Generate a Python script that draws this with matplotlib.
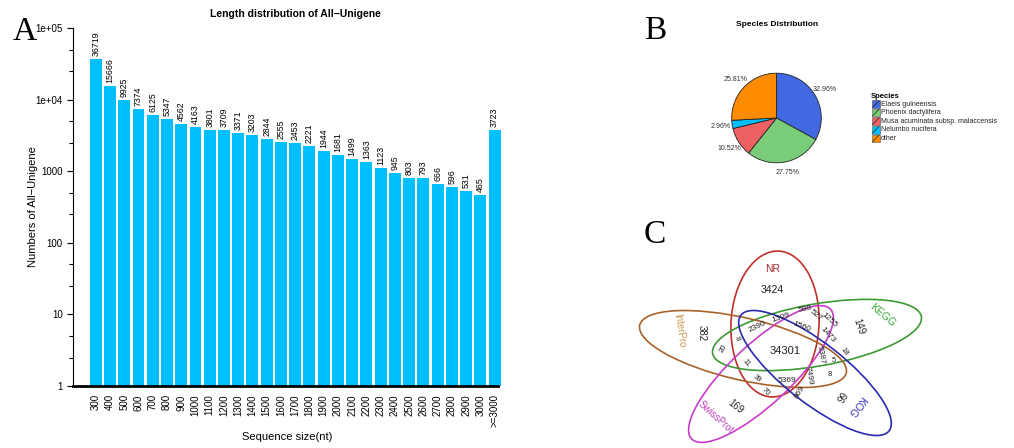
import matplotlib
matplotlib.use("Agg")
import matplotlib.pyplot as plt
from matplotlib.patches import Ellipse, Rectangle
from matplotlib.lines import Line2D
from matplotlib.ticker import FixedLocator, NullFormatter

plt.rcParams['font.family'] = ['Liberation Sans', 'DejaVu Sans']

# ---------------- data ----------------
length_bins = ['300', '400', '500', '600', '700', '800', '900', '1000', '1100', '1200',
               '1300', '1400', '1500', '1600', '1700', '1800', '1900', '2000', '2100',
               '2200', '2300', '2400', '2500', '2600', '2700', '2800', '2900', '3000', '>=3000']
unigene_counts = [36719, 15666, 9925, 7374, 6125, 5347, 4562, 4163, 3801, 3709,
                  3371, 3203, 2844, 2555, 2453, 2221, 1944, 1681, 1499,
                  1363, 1123, 945, 803, 793, 666, 596, 531, 465, 3723]

species = ['Elaeis guineensis', 'Phoenix dactylifera', 'Musa acuminata subsp. malaccensis',
           'Nelumbo nucifera', 'other']
species_pct = [32.96, 27.75, 10.52, 2.96, 25.81]
species_colors = ['#4169E1', '#7ACD78', '#EC6262', '#00BFFF', '#FF8C00']

venn_sets = ['NR', 'KEGG', 'InterPro', 'SwissProt', 'KOG']
venn_counts = [3424, 149, 382, 169, 66, 34301, 2390, 1309, 588, 527, 1255, 1560, 1473,
               18, 5387, 5, 8, 5369, 7499, 869, 70, 39, 11, 8, 20]

# ---------------- figure ----------------
W, H = 1014, 448
fig = plt.figure(figsize=(W / 100, H / 100), dpi=100)

# ---- Panel A: bar chart ----
axl, axb, axw, axh = 73, 386, 428, 358  # left, bottom(px from top), width, height
ax = fig.add_axes([axl / W, (H - axb) / H, axw / W, axh / H])
x = list(range(len(length_bins)))
ax.bar(x, unigene_counts, width=0.84, color='#00BFFF', bottom=1)
ax.set_yscale('log')
ax.set_ylim(1, 1e5)
ax.set_xlim(-1.6, 28.45)
for xi, v in zip(x, unigene_counts):
    ax.text(xi, v * 1.1, str(v), rotation=90, ha='center', va='bottom', fontsize=6.3)
ax.set_xticks(x)
ax.set_xticklabels(length_bins, rotation=90, fontsize=7)
ax.tick_params(axis='x', length=0, pad=6)
ax.yaxis.set_major_locator(FixedLocator([1, 10, 100, 1000, 1e4, 1e5]))
ax.set_yticklabels(['1', '10', '100', '1000', '1e+04', '1e+05'], fontsize=7)
minors = []
for k in range(0, 5):
    minors += [2.5 * 10 ** k, 5 * 10 ** k]
ax.yaxis.set_minor_locator(FixedLocator(minors))
ax.yaxis.set_minor_formatter(NullFormatter())
ax.tick_params(axis='y', which='major', length=4, width=0.8)
ax.tick_params(axis='y', which='minor', length=3, width=0.8)
for s in ['top', 'right']:
    ax.spines[s].set_visible(False)
ax.spines['left'].set_linewidth(0.8)
ax.spines['bottom'].set_linewidth(2)
ax.spines['bottom'].set_bounds(-1.6, 28.25)
ax.set_ylabel('Numbers of All\u2212Unigene', fontsize=8)
ax.yaxis.set_label_coords(-(axl - 38) / axw, 0.5)
ax.set_xlabel('Sequence size(nt)', fontsize=8)
ax.xaxis.set_label_coords(0.5, -(432 - axb) / axh)
fig.text(295 / W, 1 - 14 / H, 'Length distribution of All\u2212Unigene',
         ha='center', va='center', fontsize=7.5, fontweight='bold')

# ---- Panel B: pie chart ----
pc_x, pc_y, pr = 776.5, 118, 56
axp = fig.add_axes([(pc_x - pr) / W, (H - pc_y - pr) / H, 2 * pr / W, 2 * pr / H])
wedges, texts = axp.pie(species_pct, colors=species_colors, startangle=90, counterclock=False,
                        labels=[f'{p:.2f}%' for p in species_pct], labeldistance=1.25,
                        wedgeprops=dict(edgecolor='#222222', linewidth=0.6),
                        textprops=dict(fontsize=5, color='#333333'))
for t in texts:
    t.set_ha('center')
    t.set_va('center')
axp.set_aspect('equal')
fig.text(777 / W, 1 - 25 / H, 'Species Distribution', ha='center', va='center',
         fontsize=6, fontweight='bold')

# ---- overlay in pixel coords ----
ov = fig.add_axes([0, 0, 1, 1], zorder=5)
ov.set_xlim(0, W)
ov.set_ylim(H, 0)
ov.axis('off')
ov.patch.set_alpha(0)

# panel letters
for lab, lx, ly in [('A', 25, 32), ('B', 655, 31), ('C', 655, 235)]:
    ov.text(lx, ly, lab, fontsize=24, family=['Liberation Serif', 'DejaVu Serif'],
            ha='center', va='center')

# legend
ov.text(871, 97, 'Species', fontsize=5.5, fontweight='bold', ha='left', va='center')
for i, (name, col) in enumerate(zip(species, species_colors)):
    yc = 104 + i * 8.6
    ov.add_patch(Rectangle((872, yc - 3.8), 7.6, 7.6, facecolor=col, edgecolor='#555555', lw=0.4))
    ov.add_line(Line2D([872.5, 879], [yc + 3.4, yc - 3.4], color='#222222', lw=0.5))
    ov.text(881, yc, name, fontsize=5, ha='left', va='center', color='#222222')

# ---- Panel C: Venn ellipses ----
ell_geom = {  # center x, center y, major, minor, visual angle
    'NR': (775, 324, 146, 88, 87),
    'KEGG': (817, 335, 212, 62, 10),
    'InterPro': (743, 349, 212, 62, -13),
    'SwissProt': (761, 374, 190, 60, 43),
    'KOG': (815, 373, 188, 60, -38),
}
ell_colors = {'NR': '#C0302A', 'KEGG': '#3C9A32', 'InterPro': '#A8622A',
              'SwissProt': '#C83CC8', 'KOG': '#2A2AB0'}
label_colors = {'NR': '#A52A2A', 'KEGG': '#3AAA3A', 'InterPro': '#C89A50',
                'SwissProt': '#C040C0', 'KOG': '#3535C0'}
name_pos = {'NR': (773, 269, 0, 7.5), 'KEGG': (883, 315, -40, 7.5),
            'InterPro': (679, 331, -82, 7), 'SwissProt': (716, 417, -42, 7),
            'KOG': (856, 406, -128, 7.5)}
for s in venn_sets:
    cx, cy, a, b, ang = ell_geom[s]
    ov.add_patch(Ellipse((cx, cy), a, b, angle=-ang, fill=False,
                         edgecolor=ell_colors[s], lw=1.2))
    px, py, rot, fs = name_pos[s]
    ov.text(px, py, s, color=label_colors[s], fontsize=fs, rotation=rot,
            ha='center', va='center', rotation_mode='anchor')

count_pos = [  # x, y, rotation, fontsize (same order as venn_counts)
    (772, 290, 0, 7.5), (859, 327, -70, 7), (702, 333, -90, 7), (736, 407, -38, 7),
    (840, 396, -125, 7), (785, 351, 0, 8),
    (757, 327, 25, 6), (781, 318, 18, 6), (805, 309, 12, 6), (816, 315, -40, 6),
    (829, 320, -42, 6), (802, 327, -20, 6), (828, 335, -48, 6), (844, 352, -55, 5.5),
    (821, 355, -80, 6), (834, 360, 0, 5.5), (830, 374, 0, 5.5), (787, 380, 0, 6),
    (809, 376, -80, 6), (800, 392, 60, 6), (766, 392, -45, 5.5), (757, 379, -40, 5.5),
    (746, 363, -50, 5.5), (737, 338, -70, 5.5), (723, 349, 60, 5.5),
]
for v, (px, py, rot, fs) in zip(venn_counts, count_pos):
    ov.text(px, py, str(v), fontsize=fs, rotation=rot, ha='center', va='center',
            rotation_mode='anchor', color='#222222')

fig.savefig('out.png', dpi=100)
